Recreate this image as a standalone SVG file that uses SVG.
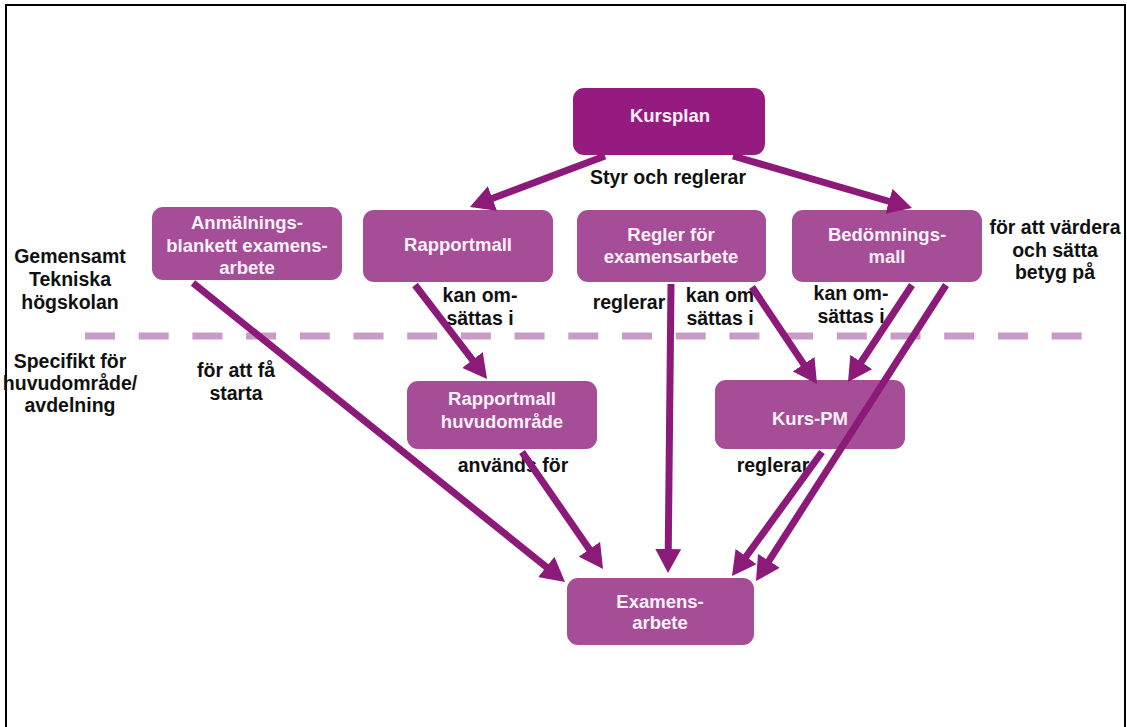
<svg xmlns="http://www.w3.org/2000/svg" width="1127" height="727" viewBox="0 0 1127 727">
<style>
.box{fill:#A64D97;}
.top{fill:#951B80;}
.bt{font-family:"Liberation Sans",Arial,sans-serif;font-weight:bold;font-size:18.5px;fill:#FBF0F8;text-anchor:middle;}
.lb{font-family:"Liberation Sans",Arial,sans-serif;font-weight:bold;font-size:19.5px;fill:#111;text-anchor:middle;}
.con{stroke:#8C1A79;stroke-width:7;fill:none;marker-end:url(#ah);}
</style>
<defs>
<marker id="ah" markerUnits="userSpaceOnUse" viewBox="0 0 24 26" refX="6" refY="13" markerWidth="24" markerHeight="26" orient="auto">
<path d="M0,0 L24,13 L0,26 z" fill="#8C1A79"/>
</marker>
</defs>
<rect x="0" y="0" width="1127" height="727" fill="#fff"/>
<rect x="6" y="5" width="1119" height="740" fill="none" stroke="#000" stroke-width="2"/>
<line x1="85" y1="336" x2="1083" y2="336" stroke="#C99BC8" stroke-width="7" stroke-dasharray="30 23.7"/>

<g id="labels">
<text class="lb" x="668" y="184">Styr och reglerar</text>
<text class="lb" x="70" y="263">Gemensamt</text>
<text class="lb" x="70" y="286">Tekniska</text>
<text class="lb" x="70" y="309">högskolan</text>
<text class="lb" x="70" y="368">Specifikt för</text>
<text class="lb" x="70" y="390">huvudområde/</text>
<text class="lb" x="70" y="412">avdelning</text>
<text class="lb" x="236" y="377">för att få</text>
<text class="lb" x="236" y="400">starta</text>
<text class="lb" x="480" y="302">kan om-</text>
<text class="lb" x="480" y="325">sättas i</text>
<text class="lb" x="629" y="309">reglerar</text>
<text class="lb" x="720" y="302">kan om</text>
<text class="lb" x="720" y="325">sättas i</text>
<text class="lb" x="851" y="300">kan om-</text>
<text class="lb" x="851" y="323">sättas i</text>
<text class="lb" x="1055" y="234">för att värdera</text>
<text class="lb" x="1055" y="257">och sätta</text>
<text class="lb" x="1055" y="279">betyg på</text>
<text class="lb" x="513" y="472">används för</text>
<text class="lb" x="773" y="472">reglerar</text>
</g>

<g id="kursplan"><rect class="top" x="573" y="88" width="192" height="67" rx="11"/><text class="bt" x="670" y="122">Kursplan</text></g>
<g id="anmalan"><rect class="box" x="152" y="207" width="190" height="73" rx="11"/><text class="bt" x="247" y="229">Anmälnings-</text><text class="bt" x="247" y="252">blankett examens-</text><text class="bt" x="247" y="274">arbete</text></g>
<g id="rapportmall"><rect class="box" x="363" y="210" width="190" height="72" rx="11"/><text class="bt" x="458" y="251">Rapportmall</text></g>
<g id="regler"><rect class="box" x="577" y="210" width="189" height="72" rx="11"/><text class="bt" x="671" y="241">Regler för</text><text class="bt" x="671" y="263">examensarbete</text></g>
<g id="bedomning"><rect class="box" x="792" y="210" width="190" height="72" rx="11"/><text class="bt" x="887" y="241">Bedömnings-</text><text class="bt" x="887" y="263">mall</text></g>
<g id="rapportmall-huvud"><rect class="box" x="407" y="381" width="190" height="68" rx="11"/><text class="bt" x="502" y="405">Rapportmall</text><text class="bt" x="502" y="428">huvudområde</text></g>
<g id="kurspm"><rect class="box" x="715" y="380" width="190" height="69" rx="11"/><text class="bt" x="810" y="425">Kurs-PM</text></g>
<g id="examensarbete"><rect class="box" x="567" y="578" width="187" height="67" rx="11"/><text class="bt" x="660" y="608">Examens-</text><text class="bt" x="660" y="629">arbete</text></g>

<g id="connectors">
<line class="con" x1="605" y1="156" x2="486.8" y2="200.6"/>
<line class="con" x1="733" y1="156" x2="894.7" y2="203"/>
<line class="con" x1="193" y1="283" x2="551" y2="570.7"/>
<line class="con" x1="415" y1="285" x2="476.1" y2="364.7"/>
<line class="con" x1="522" y1="452" x2="592.8" y2="554.2"/>
<line class="con" x1="671" y1="284" x2="668.2" y2="555"/>
<line class="con" x1="752" y1="287" x2="807" y2="369.1"/>
<line class="con" x1="912" y1="285" x2="857.9" y2="367"/>
<line class="con" x1="946" y1="285" x2="765.7" y2="565.9"/>
<line class="con" x1="822" y1="452" x2="742.6" y2="561.4"/>
</g>
</svg>
